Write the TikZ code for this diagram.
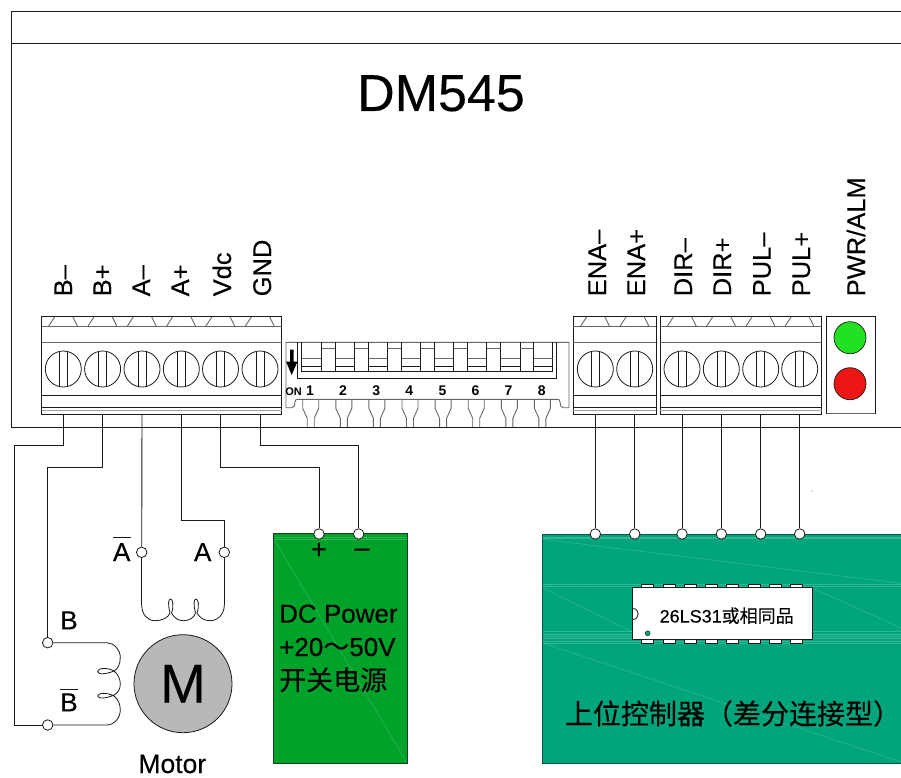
\documentclass[tikz,border=0pt]{standalone}
\usepackage{fontspec}
\setmainfont{Liberation Sans}[FakeBold=0.25]
\newfontfamily\cjk{Noto Sans CJK SC}[FakeBold=0.2]
\newfontfamily\plainbold{Liberation Sans Bold}
\newcommand{\fs}[1]{\fontsize{#1}{#1}\selectfont}
\definecolor{ln}{HTML}{1A1A1A}
\definecolor{gline}{HTML}{666666}
\definecolor{pgreen}{HTML}{00A32A}
\definecolor{pteal}{HTML}{00A57B}
\definecolor{ledgreen}{HTML}{22E022}
\definecolor{ledred}{HTML}{EE1515}
\tikzset{
  wire/.style={draw=ln,line width=0.9pt},
  thin line/.style={draw=ln,line width=0.8pt},
  gray line/.style={draw=gline,line width=0.9pt},
  term/.style={circle,draw=ln,line width=0.8pt,fill=white,minimum size=10.5pt,inner sep=0pt},
  lbl/.style={inner sep=0pt,anchor=base,text=black},
  pinlbl/.style={inner sep=0pt,anchor=base west,rotate=90,text=black,font=\fs{25.5}},
  stripe/.style={draw=white,opacity=0.2,line width=0.8pt},
  streak/.style={draw=white,opacity=0.25,line width=0.4pt},
}
% block: x0, x1, list of screw centres
\newcommand{\tblock}[3]{%
  \draw[thin line] (#1,316.7) rectangle (#2,414);
  \draw[gray line] (#1,326.7) -- (#2,326.7);
  \draw[gray line] (#1,342.3) -- (#2,342.3);
  \draw[thin line] (#1,395) -- (#2,395);
  \draw[thin line] (#1,407.3) -- (#2,407.3);
  \draw[draw=gline!60,line width=0.7pt] (#1,410.5) -- (#2,410.5);
  \foreach \cx in {#3} {
    \draw[thin line] (\cx,369) circle (18);
    \draw[thin line] (\cx-4,351.3) -- (\cx-4,386.7);
    \draw[thin line] (\cx+4,351.3) -- (\cx+4,386.7);
    \draw[gray line] (\cx-15,326.7) -- (\cx-8.5,316.7);
    \draw[gray line] (\cx+9.5,316.7) -- (\cx+14.5,326.7);
  }%
}
\begin{document}
\begin{tikzpicture}[x=1pt,y=-1pt]
\useasboundingbox (0,0) rectangle (901,778);
% panel
\draw[thin line] (901,11) -- (11,11) -- (11,427) -- (901,427);
\draw[thin line] (11,43) -- (901,43);
\node[lbl,font=\fs{52}] (title) at (441,111) {DM545};
% terminal blocks
\tblock{41.7}{281.7}{63.3,102.6,142,181.3,220.5,260}
\tblock{573.3}{656.3}{595.3,634.7}
\tblock{660.3}{821.7}{682,721.3,760.7,799.7}
% labels
\foreach \x/\t in {72/B–,111/B+,150/A–,189/A+,231/Vdc,271/GND,606/ENA–,645/ENA+,692/DIR–,731/DIR+,770.7/PUL–,810/PUL+}
  \node[pinlbl] at (\x,296.5) {\t};
\node[pinlbl] (pwr) at (865,296.5) {PWR/ALM};
% LED box
\draw[thin line] (826.7,414) -- (826.7,316.7) -- (875,316.7) -- (875,414);
\draw[gray line] (826.7,413.5) -- (875,413.5);
\node[circle,draw=ln,line width=0.7pt,fill=ledgreen,minimum size=32pt,inner sep=0pt] (ledg) at (850,337.7) {};
\node[circle,draw=ln,line width=0.7pt,fill=ledred,minimum size=32pt,inner sep=0pt] (ledr) at (850,383.7) {};
% DIP switch
\draw[gray line] (286,407.7) -- (286,342.3) -- (569,342.3) -- (569,407.7) -- (563,407.7)
  .. controls (561,407.7) and (560,405) .. (560,402) .. controls (560,400) and (559,399.3) .. (557,399.3)
  -- (298,399.3) .. controls (296,399.3) and (295,400) .. (295,402) .. controls (295,405) and (294,407.7) .. (292,407.7) -- cycle;
\draw[thin line] (297.3,342.3) -- (297.3,378.3) -- (556.7,378.3) -- (556.7,342.3);
\draw[thin line] (301.7,342.3) -- (301.7,371.7) -- (552.7,371.7) -- (552.7,342.3);
\foreach \a/\b in {301.7/321.7,335/354.7,368/387.3,401.3/420.7,434.3/453.7,467.3/486.7,500.7/520,533.3/552.7} {
  \draw[gray line] (\a,358.3) -- (\b,358.3);
  \draw[thin line] (\a,366) -- (\b,366);
}
\foreach \a/\b in {321.7/335,354.7/368,387.3/401.3,420.7/434.3,453.7/467.3,486.7/500.7,520/533.3} {
  \draw[thin line] (\a,342.3) -- (\a,371.7);
  \draw[thin line] (\b,342.3) -- (\b,371.7);
  \draw[gray line] (\a,348.5) -- (\b,348.5);
}
\fill[black] (290,349.5) rectangle (293.5,361.5) (286,361.5) -- (297.5,361.5) -- (291.7,375) -- cycle;
\node[lbl,font=\fs{11}\plainbold] (on) at (293.5,395) {ON};
\foreach \cx/\n in {310.7/1,343.8/2,376.9/3,410/4,443.1/5,476.2/6,509.3/7,542.4/8} {
  \node[lbl,font=\fs{14}\plainbold] at (\cx-0.7,395) {\n};
  \draw[gray line] (\cx-8,399.3) -- (\cx-8,408.3) -- (\cx-3.5,418.3) -- (\cx-3.5,427);
  \draw[gray line] (\cx+8,399.3) -- (\cx+8,408.3) -- (\cx+3.5,418.3) -- (\cx+3.5,427);
}
% power box
\path[fill=pgreen,draw=ln!70!pgreen,line width=1pt] (273.7,533.7) rectangle (407.3,763.3);
\draw[stripe] (274.5,537) -- (406.5,537);
\draw[stripe] (274.5,539) -- (406.5,539);
\draw[streak] (274.5,540) -- (406.5,762);
\node[lbl,font=\fs{26},anchor=base west] (dc1) at (279,622.7) {DC Power};
\node[lbl,font=\fs{26},anchor=base west] (dc2) at (279,656) {+20{\cjk ～}50V};
\node[lbl,font=\fs{27}\cjk,anchor=base west] (dc3) at (279,690) {开关电源};
\node[lbl,font=\fs{27}] (plus) at (319,558.4) {+};
\node[lbl,font=\fs{27}] (minus) at (362,556.5) {–};
% controller box
\path[fill=pteal,draw=ln!60!pteal,line width=1pt] (542,534) rectangle (902,763.3);
\foreach \y in {537,538.5,584.5,586,631,634,636,638,641,643}
  \draw[stripe] (543,\y) -- (901,\y);
\draw[streak] (543,539.3) -- (901,583.3);
\draw[streak] (543,588) -- (632.7,632);
\draw[streak] (812.3,588) -- (901,628);
\draw[streak] (543,643) -- (901,762);
% IC
\foreach \i in {0,...,7} {
  \path[fill=white,draw=ln,line width=0.6pt] (641.7+21.25*\i,584.3) rectangle (653.7+21.25*\i,587.7);
  \path[fill=white,draw=ln,line width=0.6pt] (641.7+21.25*\i,639.3) rectangle (653.7+21.25*\i,643.3);
}
\node[draw=ln,line width=0.9pt,fill=white,minimum width=179.6pt,minimum height=51.6pt,inner sep=0pt] (ic) at (722.5,613.5) {};
\draw[thin line] (632.7,608.5) .. controls (640,608.5) and (640,619.5) .. (632.7,619.5);
\fill[pteal,draw=ln,line width=0.4pt] (647.7,633.3) circle (2.5);
\node[font=\fs{18},inner sep=0pt,text=black] (ictext) at (726.7,615.7) {26LS31{\cjk 或相同品}};
\node[font=\fs{28}\cjk,inner sep=0pt,text=black] (host) at (733,713.5) {上位控制器（差分连接型）};
\fill[ln] (812,491) circle (0.5);
% motor
\node[circle,draw=ln,line width=0.8pt,fill=black!28,minimum size=98pt,inner sep=0pt] (motor) at (183,683.7) {};
\node[lbl,font=\fs{55}] (mm) at (183,702.7) {M};
\node[lbl,font=\fs{26.5}] (mot) at (172.3,773) {Motor};
\node[lbl,font=\fs{26}] (la) at (121.7,561) {A};
\node[lbl,font=\fs{26}] (lb) at (202.7,561) {A};
\node[lbl,font=\fs{26}] (lc) at (69,629.3) {B};
\node[lbl,font=\fs{26}] (ld) at (69,711.3) {B};
\draw[wire] (113.3,537.7) -- (130.7,537.7);
\draw[wire] (60,689) -- (77.7,689);
% terminals
\node[term] (nAm) at (141.7,552.3) {};
\node[term] (nAp) at (224.3,552.3) {};
\node[term] (nBp) at (47.7,642.7) {};
\node[term] (nBm) at (47.7,725) {};
\node[term] (nPp) at (319,534) {};
\node[term] (nPm) at (358.7,534) {};
\foreach \n/\x in {c1/595.3,c2/634.7,c3/682,c4/721.3,c5/760.7,c6/799.7}
  \node[term] (\n) at (\x,534) {};
% block exits
\foreach \n/\x in {tBm/63.3,tBp/102.6,tAm/142,tAp/181.3,tV/220.5,tG/260,e1/595.3,e2/634.7,e3/682,e4/721.3,e5/760.7,e6/799.7}
  \coordinate (\n) at (\x,414);
\coordinate (k1) at (14.7,445);
\coordinate (k2) at (47.7,467);
\coordinate (k3) at (224.3,520);
\coordinate (k4) at (319,467);
\coordinate (k5) at (358.7,445);
% wires
\draw[wire] (tBm) |- (k1) -- (k1 |- nBm) -- (nBm);
\draw[wire] (tBp) |- (k2) -- (nBp);
\draw[wire] (tAm) -- (nAm);
\draw[wire] (tAp) |- (k3) -- (nAp);
\draw[wire] (tV) |- (k4) -- (nPp);
\draw[wire] (tG) |- (k5) -- (nPm);
\foreach \i in {1,...,6}
  \draw[wire] (e\i) -- (c\i);
% coils
\coordinate (coilAa) at (141.7,605);
\coordinate (coilAb) at (224.3,605);
\draw[wire] (nAm) -- (coilAa);
\draw[wire] (nAp) -- (coilAb);
\draw[draw=ln,line width=0.8pt] (coilAa)
  .. controls (141.7,614) and (147,620.7) .. (155,620.7)
  .. controls (162,620.7) and (168,618) .. (170,613)
  .. controls (168,605) and (168,599) .. (170.5,599)
  .. controls (173,599) and (174,606) .. (171.5,613)
  .. controls (174.5,618) and (178,620.7) .. (183.3,620.7)
  .. controls (189,620.7) and (194,618) .. (195.5,613)
  .. controls (193.5,605) and (193.5,599) .. (196,599)
  .. controls (198.5,599) and (199.5,606) .. (197,613)
  .. controls (200,618) and (204,620.7) .. (210,620.7)
  .. controls (218,620.7) and (224.3,614) .. (coilAb);
\draw[draw=ln,line width=0.8pt] (nBp) -- (106.7,642.7)
  .. controls (114,642.7) and (120.3,650) .. (120.3,657)
  .. controls (120.3,664) and (118,669) .. (114,671)
  .. controls (107,674) and (97.7,675) .. (97.7,671.5)
  .. controls (97.7,668) and (107,667) .. (114,671)
  .. controls (118,674) and (120.3,679) .. (120.3,684)
  .. controls (120.3,689) and (118,693) .. (114,695)
  .. controls (107,698.5) and (97.7,699) .. (97.7,696)
  .. controls (97.7,693) and (107,692) .. (114,696)
  .. controls (118,699) and (120.3,704) .. (120.3,710)
  .. controls (120.3,718) and (114,725) .. (106.7,725) -- (nBm);
\end{tikzpicture}
\end{document}
